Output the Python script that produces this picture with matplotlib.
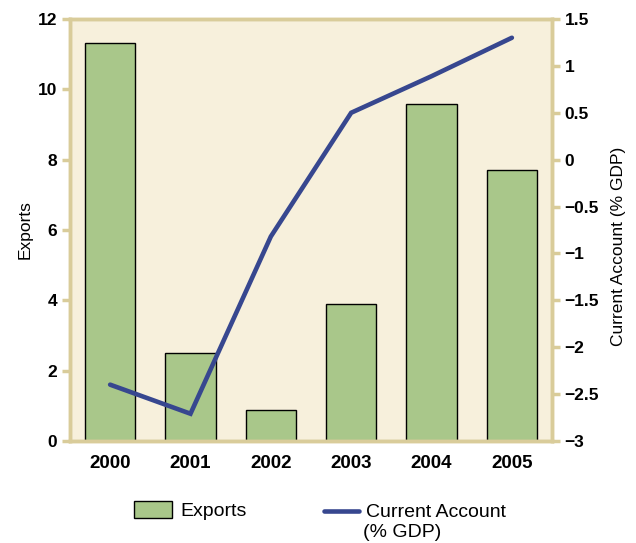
import numpy as np
import matplotlib.pyplot as plt
from matplotlib.patches import Patch
from matplotlib.lines import Line2D

# data
years = ['2000', '2001', '2002', '2003', '2004', '2005']
exports = [11.32, 2.50, 0.88, 3.90, 9.58, 7.71]
current_account = [-2.40, -2.71, -0.82, 0.50, 0.89, 1.30]

# colours
bar_color = '#a9c78a'
line_color = '#37478f'
bg_color = '#f7f0dc'
spine_color = '#d9cc9a'

plt.rcParams['font.family'] = ['Liberation Sans', 'DejaVu Sans']

fig = plt.figure(figsize=(6.36, 5.43), dpi=100)
ax = fig.add_axes([0.110, 0.188, 0.758, 0.777])
ax.set_facecolor(bg_color)

x = np.arange(len(years))
ax.bar(x, exports, width=0.63, color=bar_color, edgecolor='black', linewidth=1.0, zorder=2)
ax.set_xlim(-0.5, 5.5)
ax.set_ylim(0, 12)
ax.set_yticks(np.arange(0, 13, 2))
ax.set_xticks(x)
ax.set_xticklabels(years, fontweight='bold', fontsize=13.5)
ax.set_ylabel('Exports', fontsize=12.5)
for lbl in ax.get_yticklabels():
    lbl.set_fontweight('bold')
    lbl.set_fontsize(12.5)
ax.tick_params(axis='y', length=6, width=2.5, color=spine_color, pad=3)
ax.tick_params(axis='x', length=0, pad=10)

ax2 = ax.twinx()
ax2.plot(x, current_account, color=line_color, linewidth=3.3,
         solid_capstyle='round', solid_joinstyle='miter', zorder=3)
ax2.set_ylim(-3, 1.5)
ax2.set_yticks(np.arange(-3, 1.6, 0.5))
ax2.set_yticklabels(['\u22123', '\u22122.5', '\u22122', '\u22121.5', '\u22121',
                     '\u22120.5', '0', '0.5', '1', '1.5'],
                    fontweight='bold', fontsize=12.5)
ax2.set_ylabel('Current Account (% GDP)', fontsize=12.5)
ax2.yaxis.set_label_coords(1.122, 0.462)
ax2.tick_params(axis='y', length=6, width=2.5, color=spine_color, pad=3)

for a in (ax, ax2):
    for s in a.spines.values():
        s.set_color(spine_color)
        s.set_linewidth(2.5)

# legend below the plot, two separate entries
leg1 = fig.legend([Patch(facecolor=bar_color, edgecolor='black', linewidth=1.0)],
                  ['Exports'], loc='center left', bbox_to_anchor=(0.211, 0.060),
                  frameon=False, fontsize=14, borderpad=0, borderaxespad=0,
                  handlelength=1.95, handleheight=1.0, handletextpad=0.4)
leg2 = fig.legend([Line2D([0], [0], color=line_color, linewidth=3.3, solid_capstyle='round')],
                  ['Current Account'], loc='center left', bbox_to_anchor=(0.509, 0.056),
                  frameon=False, fontsize=14, borderpad=0, borderaxespad=0,
                  handlelength=1.8, handletextpad=0.35)
fig.text(0.571, 0.020, '(% GDP)', fontsize=14, va='center', ha='left')

plt.savefig('out.png', dpi=100)
